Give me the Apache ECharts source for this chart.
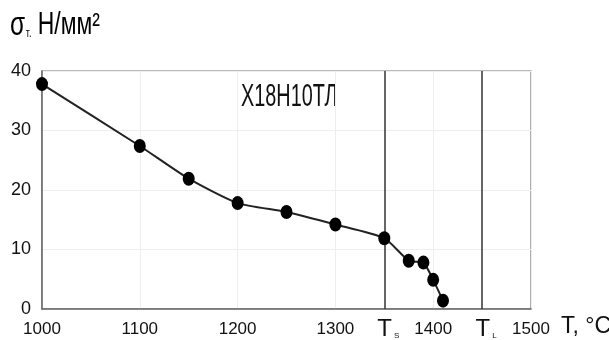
<!DOCTYPE html>
<html>
<head>
<meta charset="utf-8">
<script src="https://cdn.jsdelivr.net/npm/echarts@6/dist/echarts.min.js"></script>
<style>html,body{margin:0;padding:0;background:#fff;}#c{width:609px;height:340px;}</style>
</head>
<body>
<div id="c"></div>
<script>
// Data
const temperatures = [1000, 1100, 1150, 1200, 1250, 1300, 1350, 1375, 1390, 1400, 1410];
const stress = [37.8, 27.4, 21.9, 17.8, 16.3, 14.2, 11.9, 8.1, 7.8, 4.9, 1.4];
const xTickLabels = [1000, 1100, 1200, 1300, 1350, 1400, 1450, 1500];
const yTickLabels = [0, 10, 20, 30, 40];
const phaseLines = [1350, 1450];
const phaseNames = ['S', 'L'];
const steelName = 'Х18Н10ТЛ';

const FONT = '"Liberation Sans", Arial, sans-serif';

const chart = echarts.init(document.getElementById('c'), null, {renderer: 'canvas'});

const phaseMap = {};
phaseLines.forEach((v, i) => { phaseMap[v] = phaseNames[i]; });

chart.setOption({
  animation: false,
  backgroundColor: '#fff',
  graphic: [{
    type: 'text',
    x: 10,
    y: 9,
    scaleX: 0.74,
    style: {
      text: '{a|σ}{b|т.}{c| Н/мм²}',
      rich: {
        a: {fontFamily: FONT, fontSize: 33, fontWeight: 500, color: '#111'},
        b: {fontFamily: FONT, fontSize: 12, color: '#111', verticalAlign: 'bottom', padding: [0, 0, 2, 1]},
        c: {fontFamily: FONT, fontSize: 31, fontWeight: 500, color: '#111'}
      }
    }
  }, {
    type: 'text',
    x: 241,
    y: 81,
    scaleX: 0.62,
    style: {text: steelName, font: '32px ' + FONT, fill: '#111'}
  }],
  grid: {
    left: 42, right: 78, top: 71, bottom: 31,
    containLabel: false,
    outerBoundsMode: 'none',
    show: true, borderColor: '#777', borderWidth: 1.2, backgroundColor: 'transparent'
  },
  xAxis: {
    type: 'value',
    min: 1000, max: 1500, interval: 100,
    name: 'T, °C',
    nameLocation: 'end',
    nameGap: 30,
    nameTextStyle: {fontFamily: FONT, fontSize: 23, color: '#111', verticalAlign: 'top', padding: [6, 0, 0, 0]},
    axisLine: {show: true, lineStyle: {color: '#666', width: 1.5}},
    axisTick: {show: false},
    splitLine: {show: true, lineStyle: {color: '#eeeeee', width: 1}},
    axisLabel: {
      customValues: xTickLabels,
      margin: 9,
      fontFamily: FONT, fontSize: 17, color: '#111',
      formatter: function (v) {
        if (phaseMap[v]) return '{t|T}{s|' + phaseMap[v] + '}';
        return '{n|' + v + '}';
      },
      rich: {
        n: {fontFamily: FONT, fontSize: 17, lineHeight: 22, color: '#111'},
        t: {fontFamily: FONT, fontSize: 24, lineHeight: 22, color: '#111', padding: [0, 0, 0, 8]},
        s: {fontFamily: FONT, fontSize: 8, lineHeight: 22, color: '#111', verticalAlign: 'bottom', padding: [0, 0, 0, 2]}
      }
    }
  },
  yAxis: {
    type: 'value',
    min: 0, max: 40, interval: 10,
    axisLine: {show: true, lineStyle: {color: '#666', width: 1.5}},
    axisTick: {show: false},
    splitLine: {show: true, lineStyle: {color: '#eeeeee', width: 1}},
    axisLabel: {
      customValues: yTickLabels,
      margin: 11,
      fontFamily: FONT, fontSize: 18, color: '#111'
    }
  },
  series: [{
    type: 'line',
    data: temperatures.map((t, i) => [t, stress[i]]),
    smooth: 0.2,
    symbol: 'circle',
    symbolSize: [12, 14],
    itemStyle: {color: '#000'},
    lineStyle: {color: '#222', width: 2},
    markLine: {
      silent: true,
      symbol: 'none',
      label: {show: false},
      lineStyle: {color: '#333', width: 1.5, type: 'solid'},
      data: phaseLines.map(v => ({xAxis: v}))
    },
    z: 5
  }]
});
</script>
</body>
</html>
